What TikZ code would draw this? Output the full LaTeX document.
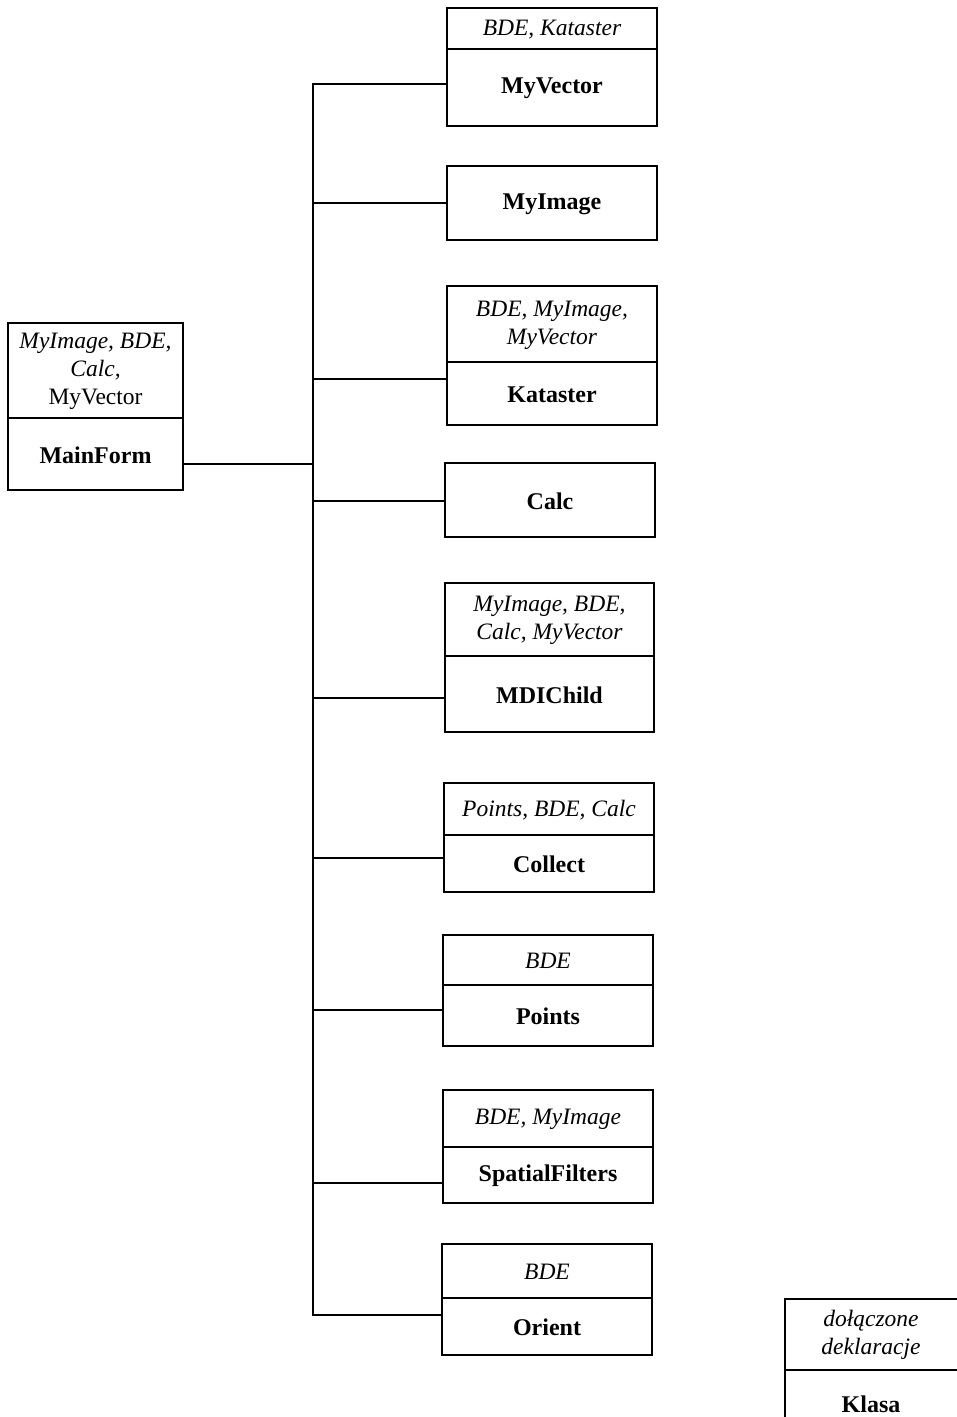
\documentclass[tikz,border=0pt]{standalone}
\usepackage{fontspec}
\setmainfont{Liberation Serif}
\begin{document}
\begin{tikzpicture}[x=1pt,y=-1pt,
  ln/.style={line width=2.4pt, line cap=rect},
  clsframe/.style={draw, line width=2.4pt, rectangle, inner sep=0pt, outer sep=0pt},
  toptxt/.style={font=\fontsize{23.5}{28}\selectfont\itshape, align=center, inner sep=0pt},
  nametxt/.style={font=\fontsize{24}{28}\selectfont\bfseries, align=center, inner sep=0pt}]
\clip (0,0) rectangle (957,1417);
\fill[white] (0,0) rectangle (957,1417);
% #1 name, #2 x1, #3 y1, #4 x2, #5 ydiv, #6 y2, #7 top, #8 bottom
\newcommand\clsbox[8]{%
  \node[clsframe, minimum width={(#4-#2)*1pt}, minimum height={(#6-#3)*1pt}] (#1) at ({(#2+#4)/2},{(#3+#6)/2}) {};
  \draw[line width=2.4pt] (#2,#5) -- (#4,#5);
  \node[toptxt] (#1-top) at ({(#2+#4)/2},{(#3+#5)/2+1}) {#7};
  \node[nametxt] (#1-name) at ({(#2+#4)/2},{(#5+#6)/2+1}) {#8};
}
\newcommand\plainbox[5]{%
  \node[clsframe, minimum width={(#4-#2)*1pt}, minimum height={(#5-#3)*1pt}] (#1) at ({(#2+#4)/2},{(#3+#5)/2}) {};
  \node[nametxt] (#1-name) at ({(#2+#4)/2},{(#3+#5)/2+1}) {#1};
}
\clsbox{MyVector}{447}{8}{657}{49}{126}{BDE, Kataster}{MyVector}
\plainbox{MyImage}{447}{166}{657}{240}
\clsbox{Kataster}{447}{286}{657}{362}{425}{BDE, MyImage,\\MyVector}{Kataster}
\plainbox{Calc}{445}{463}{655}{537}
\clsbox{MDIChild}{445}{583}{654}{656}{732}{MyImage, BDE,\\Calc, MyVector}{MDIChild}
\clsbox{Collect}{444}{783}{654}{835}{892}{Points, BDE, Calc}{Collect}
\clsbox{Points}{443}{935}{653}{985}{1046}{BDE}{Points}
\clsbox{SpatialFilters}{443}{1090}{653}{1147}{1203}{BDE, MyImage}{SpatialFilters}
\clsbox{Orient}{442}{1244}{652}{1298}{1355}{BDE}{Orient}
\clsbox{MainForm}{8}{323}{183}{418}{490}{MyImage, BDE,\\Calc,\\{\upshape MyVector}}{MainForm}
% legend box (runs past the page edge)
\node[clsframe, minimum width=200pt, minimum height=140pt] (Klasa) at (885,1369) {};
\draw[line width=2.4pt] (785,1370) -- (990,1370);
\node[toptxt] (Klasa-top) at (871,1335) {dołączone\\deklaracje};
\node[nametxt] (Klasa-name) at (871,1404) {Klasa};
% connectors
\coordinate (cMyVector) at (313,84);
\coordinate (cMyImage) at (313,203);
\coordinate (cKataster) at (313,379);
\coordinate (cCalc) at (313,501);
\coordinate (cMDIChild) at (313,698);
\coordinate (cCollect) at (313,858);
\coordinate (cPoints) at (313,1010);
\coordinate (cSpatialFilters) at (313,1183);
\coordinate (cOrient) at (313,1315);
\coordinate (cMainForm) at (313,464);
\draw[ln] (cMyVector) -- (cOrient);
\foreach \n in {MyVector,MyImage,Kataster,Calc,MDIChild,Collect,Points,SpatialFilters,Orient}
  \draw[ln] (c\n) -- (c\n -| \n.west);
\draw[ln] (MainForm.east |- cMainForm) -- (cMainForm);
\end{tikzpicture}
\end{document}
